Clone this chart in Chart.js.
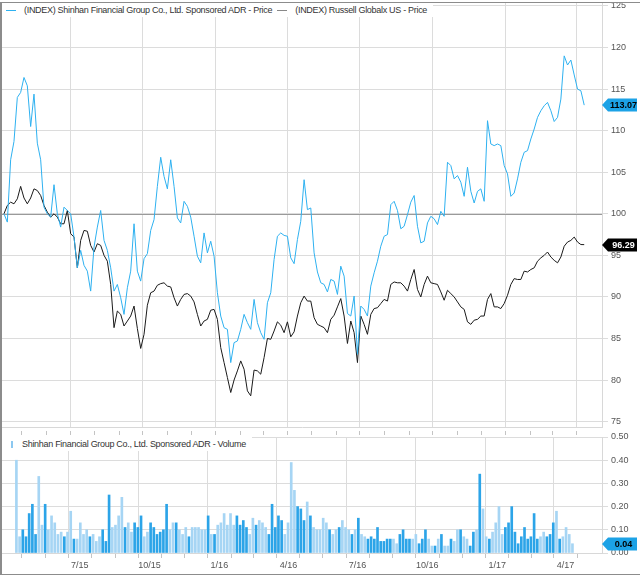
<!DOCTYPE html>
<html>
<head>
<meta charset="utf-8">
<script src="https://cdn.jsdelivr.net/npm/chart.js@4.4.1/dist/chart.umd.min.js"></script>
<style>
  body { margin: 0; background: #fff; }
  #wrap { position: relative; width: 640px; height: 575px; overflow: hidden; font-family: "Liberation Sans", Arial, sans-serif; }
  #frame { position: absolute; left: 0; top: 2px; width: 640px; height: 573px; box-sizing: border-box;
           border-left: 2px solid #8c8c8c; border-top: 1px solid #8c8c8c; border-bottom: 1px solid #8c8c8c; pointer-events: none; z-index: 5; }
  canvas { position: absolute; left: 0; }
  #priceCanvas { top: -10px; }
  #volCanvas { top: 426px; }
  .legend { position: absolute; background: #fff; font-size: 9px; color: #333; letter-spacing: -0.3px;
            white-space: nowrap; height: 14px; line-height: 14px; z-index: 3; }
  .legend .sym { display: inline-block; width: 10px; height: 1px; vertical-align: middle; margin: 0 8px 0 4px; }
  .legend .bar { display: inline-block; width: 2px; height: 7px; background: #8cc8f0; vertical-align: middle; margin: 0 9px 0 9px; }
</style>
</head>
<body>
<div id="wrap">
  <canvas id="priceCanvas" width="640" height="446"></canvas>
  <canvas id="volCanvas" width="640" height="149"></canvas>
  <div class="legend" style="left:2px;top:3px;padding-right:6px;">
    <span class="sym" style="background:#2eb1f0"></span>(INDEX) Shinhan Financial Group Co., Ltd. Sponsored ADR - Price<span class="sym" style="background:#888;margin-left:5px"></span>(INDEX) Russell Globalx US - Price
  </div>
  <div class="legend" style="left:2px;top:437px;padding-right:6px;">
    <span class="bar"></span>Shinhan Financial Group Co., Ltd. Sponsored ADR - Volume
  </div>
  <div id="frame"></div>
</div>
<script>
// sample positions: days after 2015-04-01
const firstDay = 7.6;
const stepDays = 4.21;

const shinhan = [
  100.0, 99.0, 106.5, 108.7, 114.0, 114.6, 116.4, 115.4, 110.5, 114.4,
  108.5, 106.5, 100.8, 100.0, 99.6, 103.5, 100.0, 98.4, 100.8, 100.4,
  100.0, 97.2, 93.5, 95.6, 93.8, 93.1, 90.7, 96.0, 98.4, 100.4,
  96.8, 95.6, 93.5, 90.7, 91.5, 89.9, 87.9, 91.1, 93.1, 98.8,
  93.1, 91.9, 94.6, 95.2, 98.0, 99.3, 103.3, 106.8, 104.5, 103.0,
  106.5, 103.3, 99.5, 98.9, 101.5, 100.9, 99.6, 97.3, 94.9, 94.1,
  97.7, 95.3, 96.7, 94.9, 90.5, 87.7, 86.3, 86.1, 82.1, 84.5,
  84.7, 86.1, 87.9, 86.9, 86.1, 89.7, 86.9, 85.7, 84.9, 89.3,
  90.5, 94.5, 97.3, 97.7, 97.4, 97.3, 94.7, 94.0, 96.9, 99.1,
  104.1, 100.5, 100.7, 95.3, 93.0, 91.7, 91.5, 90.6, 92.1, 91.9,
  90.3, 93.7, 92.5, 88.0, 87.7, 90.1, 83.1, 88.9, 88.5, 87.7,
  91.3, 92.9, 94.3, 96.1, 97.3, 97.5, 101.1, 101.5, 100.4, 98.2,
  98.5, 99.9, 101.4, 102.2, 98.5, 96.5, 96.7, 98.9, 99.7, 99.4,
  98.7, 100.3, 99.7, 106.2, 105.8, 104.2, 104.6, 103.8, 102.1, 105.6,
  102.7, 101.3, 102.7, 103.0, 101.5, 111.2, 108.4, 108.2, 108.4, 108.2,
  105.8, 104.8, 102.1, 102.5, 104.2, 106.2, 107.4, 107.6, 109.0, 110.2,
  111.6, 112.4, 113.0, 113.4, 112.4, 111.1, 111.6, 113.8, 119.0, 117.9,
  118.5, 116.7, 115.0, 114.8, 113.07
];

const russell = [
  100.0, 101.0, 101.4, 101.2, 101.8, 103.3, 101.9, 101.2, 101.9, 103.0,
  102.8, 102.2, 101.0, 100.2, 99.6, 100.0, 99.6, 98.8, 98.8, 100.4,
  97.6, 97.2, 93.5, 96.8, 98.0, 97.9, 96.2, 95.4, 96.4, 96.2,
  95.0, 94.3, 91.5, 86.3, 88.3, 87.9, 86.5, 87.1, 87.7, 88.9,
  86.2, 83.8, 85.5, 89.0, 90.5, 90.7, 91.4, 91.6, 91.7, 91.3,
  91.2, 89.9, 88.9, 89.7, 90.3, 90.4, 90.1, 89.4, 87.9, 86.5,
  87.1, 87.3, 88.4, 88.5, 87.3, 83.9, 82.1, 80.3, 78.5, 80.0,
  81.1, 82.3, 81.3, 78.7, 78.1, 81.2, 81.1, 80.7, 82.7, 85.0,
  84.9, 85.9, 87.0, 86.6, 85.7, 87.0, 85.2, 85.8, 87.7, 89.3,
  90.1, 89.5, 89.5, 87.5, 86.7, 86.5, 86.3, 85.7, 87.3, 87.8,
  88.8, 89.8, 87.7, 84.4, 87.1, 85.7, 82.1, 87.7, 86.7, 85.5,
  87.9, 88.6, 88.7, 89.2, 89.7, 89.5, 91.5, 91.8, 91.7, 91.7,
  91.3, 90.7, 92.1, 93.3, 90.9, 90.0, 91.5, 92.5, 91.7, 91.6,
  91.5, 90.6, 89.6, 90.8, 90.4, 90.0, 89.4, 88.8, 88.5, 87.0,
  86.7, 87.2, 87.3, 87.7, 87.7, 89.7, 90.4, 88.8, 88.8, 88.6,
  89.2, 90.2, 91.5, 92.2, 92.1, 92.1, 93.1, 93.0, 93.3, 93.5,
  94.3, 94.7, 95.0, 95.4, 94.8, 94.4, 94.1, 94.8, 96.1, 96.6,
  96.8, 97.2, 96.6, 96.3, 96.29
];

const volume = [
  0.40, 0.07, 0.10, 0.07, 0.17, 0.21, 0.08, 0.33, 0.12, 0.21,
  0.10, 0.16, 0.13, 0.08, 0.09, 0.07, 0.09, 0.18, 0.06, 0.06,
  0.13, 0.08, 0.10, 0.07, 0.08, 0.05, 0.07, 0.10, 0.05, 0.25,
  0.11, 0.12, 0.16, 0.24, 0.11, 0.13, 0.09, 0.13, 0.11, 0.16,
  0.07, 0.09, 0.13, 0.11, 0.08, 0.09, 0.10, 0.21, 0.10, 0.13,
  0.13, 0.10, 0.08, 0.11, 0.07, 0.11, 0.11, 0.11, 0.10, 0.10,
  0.16, 0.08, 0.08, 0.12, 0.13, 0.17, 0.12, 0.17, 0.12, 0.16,
  0.12, 0.14, 0.11, 0.08, 0.15, 0.12, 0.14, 0.13, 0.11, 0.08,
  0.21, 0.11, 0.16, 0.14, 0.08, 0.13, 0.39, 0.27, 0.20, 0.19,
  0.14, 0.22, 0.16, 0.11, 0.10, 0.10, 0.15, 0.13, 0.10, 0.08,
  0.10, 0.11, 0.14, 0.11, 0.10, 0.08, 0.10, 0.15, 0.08, 0.07,
  0.06, 0.07, 0.06, 0.11, 0.05, 0.05, 0.06, 0.06, 0.06, 0.04,
  0.08, 0.10, 0.06, 0.06, 0.06, 0.08, 0.04, 0.06, 0.10, 0.06,
  0.03, 0.03, 0.06, 0.08, 0.03, 0.03, 0.06, 0.05, 0.10, 0.10,
  0.07, 0.06, 0.03, 0.09, 0.10, 0.34, 0.19, 0.07, 0.06, 0.09,
  0.13, 0.20, 0.08, 0.11, 0.13, 0.20, 0.09, 0.04, 0.07, 0.11,
  0.06, 0.07, 0.17, 0.06, 0.07, 0.09, 0.07, 0.08, 0.13, 0.18,
  0.06, 0.07, 0.11, 0.08, 0.04
];

// month starts (days after 2015-04-01); only quarters get a label
const monthDays = [30, 61, 91, 122, 153, 183, 214, 244, 275, 306, 335, 366,
                   396, 427, 457, 488, 519, 549, 580, 610, 641, 672, 700, 731];
const monthLabels = ['', '', '7/15', '', '', '10/15', '', '', '1/16', '', '', '4/16',
                     '', '', '7/16', '', '', '10/16', '', '', '1/17', '', '', '4/17'];
const priceTicks = [75, 80, 85, 90, 95, 100, 105, 110, 115, 120, 125];
const volTicks = [0, 0.05, 0.1, 0.15, 0.2, 0.25, 0.3, 0.35, 0.4, 0.45, 0.5];
const baseValue = 100;

const BLUE = '#2eb1f0';
const TAG_BLUE = '#1ca2e6';
const GRID = '#dcdcdc';
const FONT = { family: '"Liberation Sans", Arial, sans-serif', size: 9 };

const xs = shinhan.map((_, i) => firstDay + i * stepDays);
const pts = arr => arr.map((v, i) => ({ x: xs[i], y: v }));

// darker reference line at the index base value
const baseLine = {
  id: 'baseLine',
  beforeDatasetsDraw(chart) {
    const { ctx, chartArea, scales } = chart;
    const y = Math.round(scales.y.getPixelForValue(baseValue)) + 0.5;
    ctx.save();
    ctx.strokeStyle = '#9a9a9a';
    ctx.lineWidth = 1;
    ctx.beginPath();
    ctx.moveTo(chartArea.left, y);
    ctx.lineTo(chartArea.right, y);
    ctx.stroke();
    ctx.restore();
  }
};

// tag on the right axis showing the last value
const lastTags = {
  id: 'lastTags',
  afterDraw(chart) {
    const { ctx, chartArea, scales } = chart;
    chart.data.datasets.forEach(ds => {
      if (!ds.tag) return;
      const v = ds.data[ds.data.length - 1].y;
      const y = Math.round(scales.y.getPixelForValue(v));
      const x0 = chartArea.right, x1 = x0 + 6, x2 = x0 + 35, h = 6.5;
      ctx.save();
      ctx.fillStyle = ds.tag.bg;
      ctx.beginPath();
      ctx.moveTo(x0, y);
      ctx.lineTo(x1, y - h);
      ctx.lineTo(x2, y - h);
      ctx.lineTo(x2, y + h);
      ctx.lineTo(x1, y + h);
      ctx.closePath();
      ctx.fill();
      ctx.fillStyle = ds.tag.fg;
      ctx.font = 'bold 9px "Liberation Sans", Arial, sans-serif';
      ctx.textAlign = 'center';
      ctx.textBaseline = 'middle';
      ctx.fillText(ds.tag.text(v), (x1 + x2) / 2 + 1, y + 0.5);
      ctx.restore();
    });
  }
};

const xAxis = (showLabels, height, tickLen, dash) => ({
  type: 'linear',
  min: 5.1,
  max: 762.6,
  afterBuildTicks: s => { s.ticks = monthDays.map(d => ({ value: d })); },
  afterFit: s => { s.height = height; },
  ticks: {
    display: showLabels,
    autoSkip: false,
    maxRotation: 0,
    padding: 2,
    color: '#555',
    font: FONT,
    callback: (v, i) => monthLabels[i]
  },
  grid: {
    color: c => (c.tick && monthLabels[c.index] ? GRID : 'rgba(0,0,0,0)'),
    tickColor: '#c4c4c4',
    tickLength: tickLen,
    tickBorderDash: dash
  },
  border: { display: true, color: '#d8d8d8' }
});

const yAxis = (min, max, ticks, fmt) => ({
  position: 'right',
  min: min,
  max: max,
  afterBuildTicks: s => { s.ticks = ticks.map(v => ({ value: v })); },
  afterFit: s => { s.width = 38; },
  ticks: { color: '#555', font: FONT, padding: 3, callback: fmt },
  grid: { color: GRID, tickLength: 6 },
  border: { display: true, color: '#d8d8d8' }
});

new Chart(document.getElementById('priceCanvas'), {
  type: 'line',
  data: {
    datasets: [
      {
        label: '(INDEX) Shinhan Financial Group Co., Ltd. Sponsored ADR - Price',
        data: pts(shinhan),
        borderColor: BLUE,
        borderWidth: 1,
        pointRadius: 0,
        tag: { bg: TAG_BLUE, fg: '#000', text: v => v.toFixed(2) }
      },
      {
        label: '(INDEX) Russell Globalx US - Price',
        data: pts(russell),
        borderColor: '#1a1a1a',
        borderWidth: 1,
        pointRadius: 0,
        tag: { bg: '#000', fg: '#fff', text: v => v.toFixed(2) }
      }
    ]
  },
  options: {
    responsive: false,
    animation: false,
    layout: { padding: { left: 2, top: 13, right: 0, bottom: 0 } },
    plugins: { legend: { display: false }, tooltip: { enabled: false } },
    scales: {
      x: xAxis(false, 9, 8, [0, 3, 5, 20]),
      y: yAxis(74.35, 125.36, priceTicks, v => String(v))
    }
  },
  plugins: [baseLine, lastTags]
});

new Chart(document.getElementById('volCanvas'), {
  type: 'bar',
  data: {
    datasets: [{
      label: 'Shinhan Financial Group Co., Ltd. Sponsored ADR - Volume',
      data: pts(volume),
      backgroundColor: volume.map((_, i) => (i > 0 && shinhan[i] >= shinhan[i - 1] ? '#2ca4e8' : '#a6d5f4')),
      barThickness: 2,
      tag: { bg: TAG_BLUE, fg: '#000', text: v => v.toFixed(2) }
    }]
  },
  options: {
    responsive: false,
    animation: false,
    layout: { padding: { left: 2, top: 11, right: 0, bottom: 0 } },
    plugins: { legend: { display: false }, tooltip: { enabled: false } },
    scales: {
      x: xAxis(true, 22, 5, []),
      y: yAxis(0, 0.5, volTicks, v => v.toFixed(2))
    }
  },
  plugins: [lastTags]
});
</script>
</body>
</html>
